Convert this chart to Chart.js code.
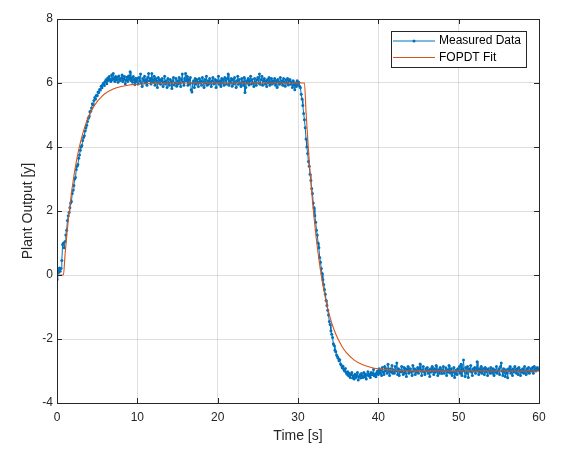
<!DOCTYPE html>
<html>
<head>
<meta charset="utf-8">
<script src="https://cdn.jsdelivr.net/npm/chart.js@4/dist/chart.umd.min.js"></script>
<style>
  html, body { margin: 0; padding: 0; background: #fff; }
  #wrap { position: relative; width: 564px; height: 451px; }
</style>
</head>
<body>
<div id="wrap"><canvas id="c" width="564" height="451"></canvas></div>
<script>
// ---- Data ----
const sampleStep = 0.1; // s, measured samples

const measuredValues = [
  // 0 - 0.9 s
  -0.15, 0.15, 0.08, 0.22, 0.12, 0.2, 0.45, 0.95, 1.0, 0.85,
  // 1 s
  1.05, 1.25, 1.4, 1.7, 1.85, 1.95, 2.1, 2.25, 2.3, 2.55,
  // 2 s
  2.65, 2.8, 3.0, 3.05, 3.3, 3.4, 3.45, 3.65, 3.75, 3.9,
  // 3 s
  4.0, 4.05, 4.2, 4.3, 4.35, 4.5, 4.6, 4.68, 4.8, 4.9,
  // 4 s
  4.95, 5.1, 5.12, 5.22, 5.35, 5.32, 5.45, 5.55, 5.5, 5.62,
  // 5 s
  5.6, 5.72, 5.7, 5.8, 5.78, 5.9, 5.85, 5.95, 6.0, 5.92,
  // 6 s
  6.05, 6.1, 5.98, 6.15, 6.08, 6.2, 6.12, 6.05, 6.25, 6.1,
  // 7 s
  6.3, 6.15, 6.05, 6.2, 6.1, 6.18, 6.02, 6.22, 6.12, 6.08,
  // 8 s
  6.15, 6.25, 6.05, 6.12, 6.2, 5.98, 6.1, 6.18, 6.05, 6.22,
  // 9 s
  6.12, 6.35, 6.08, 6.15, 6.02, 6.2, 6.1, 5.95, 6.15, 6.05,
  // 10 s
  6.14, 5.97, 6.17, 6.07, 6.28, 6.0, 5.89, 6.14, 6.07, 6.21,
  // 11 s
  6.0, 6.11, 5.93, 6.17, 6.3, 6.07, 6.14, 5.97, 6.3, 6.11,
  // 12 s
  6.03, 6.21, 5.93, 6.14, 6.07, 5.86, 6.17, 6.0, 6.11, 5.96,
  // 13 s
  6.07, 6.14, 5.89, 6.03, 6.21, 5.97, 6.07, 5.86, 6.14, 6.0,
  // 14 s
  5.93, 6.11, 6.03, 5.83, 6.07, 6.17, 5.94, 6.0, 6.14, 5.9,
  // 15 s
  6.07, 5.97, 6.17, 6.0, 5.89, 6.11, 6.28, 6.03, 5.93, 6.14,
  // 16 s
  6.3, 6.07, 6.21, 5.93, 6.11, 5.97, 6.17, 5.79, 5.72, 6.0,
  // 17 s
  6.07, 5.86, 6.14, 5.96, 6.11, 6.03, 5.89, 6.14, 6.0, 6.07,
  // 18 s
  5.93, 6.17, 6.04, 5.86, 6.11, 6.0, 6.21, 5.93, 6.07, 5.97,
  // 19 s
  6.14, 6.03, 5.89, 6.07, 6.17, 5.97, 6.0, 6.11, 5.86, 6.07,
  // 20 s
  6.03, 6.21, 5.96, 6.07, 5.89, 6.14, 6.0, 6.11, 5.93, 6.17,
  // 21 s
  6.07, 5.97, 6.14, 6.28, 5.93, 6.07, 6.0, 6.14, 5.9, 6.11,
  // 22 s
  5.97, 6.17, 6.03, 5.86, 6.07, 6.21, 5.96, 6.11, 6.0, 5.89,
  // 23 s
  6.14, 6.03, 5.93, 6.17, 5.7, 5.86, 6.07, 6.0, 6.14, 5.94,
  // 24 s
  6.07, 6.21, 5.97, 6.11, 6.0, 5.89, 6.14, 6.03, 5.93, 6.1,
  // 25 s
  6.17, 6.0, 6.28, 5.96, 6.11, 6.21, 5.93, 6.07, 6.14, 5.97,
  // 26 s
  6.07, 5.89, 6.11, 6.0, 6.17, 5.93, 6.03, 6.14, 5.97, 6.07,
  // 27 s
  6.0, 6.14, 5.93, 6.07, 5.86, 6.11, 6.03, 5.96, 6.17, 6.0,
  // 28 s
  6.07, 5.93, 6.14, 6.03, 5.9, 6.1, 6.0, 6.14, 5.94, 6.06,
  // 29 s
  6.11, 5.96, 6.03, 5.86, 6.07, 5.93, 5.79, 6.0, 5.89, 6.07,
  // 30 s
  5.95, 6.02, 5.9, 5.85, 5.65, 5.5, 5.3, 5.05, 4.85, 4.6,
  // 31 s
  4.25, 4.0, 3.8, 3.55, 3.4, 3.15, 2.95, 2.7, 2.55, 2.25,
  // 32 s
  2.1, 1.85, 1.65, 1.4, 1.25, 1.0, 0.85, 0.55, 0.4, 0.2,
  // 33 s
  0.05, -0.15, -0.3, -0.45, -0.6, -0.8, -0.95, -1.1, -1.25, -1.45,
  // 34 s
  -1.55, -1.75, -1.85, -1.95, -2.15, -2.2, -2.35, -2.4, -2.5, -2.55,
  // 35 s
  -2.6, -2.68, -2.65, -2.78, -2.82, -2.9, -2.85, -2.95, -3.0, -2.92,
  // 36 s
  -3.05, -3.1, -3.02, -3.15, -3.08, -3.2, -3.12, -3.05, -3.22, -3.15,
  // 37 s
  -3.25, -3.1, -3.2, -3.15, -3.05, -3.28, -3.18, -3.12, -3.22, -3.08,
  // 38 s
  -3.15, -3.2, -3.05, -3.18, -3.1, -3.25, -3.12, -3.02, -3.15, -3.1,
  // 39 s
  -3.2, -3.05, -3.12, -3.08, -2.95, -3.15, -3.1, -3.18, -3.05, -3.0,
  // 40 s
  -3.11, -2.93, -3.07, -2.97, -3.14, -2.89, -3.03, -3.11, -2.86, -3.0,
  // 41 s
  -2.93, -3.07, -2.79, -3.0, -3.14, -2.93, -3.03, -2.83, -3.07, -2.96,
  // 42 s
  -3.07, -2.86, -3.0, -2.75, -3.11, -2.93, -3.14, -2.97, -3.03, -2.86,
  // 43 s
  -3.0, -3.11, -2.89, -3.07, -2.93, -3.17, -2.97, -2.86, -3.07, -3.0,
  // 44 s
  -2.93, -3.03, -3.14, -2.83, -3.0, -2.93, -3.11, -2.96, -3.04, -2.89,
  // 45 s
  -3.07, -2.93, -2.78, -3.0, -3.14, -2.97, -2.86, -3.03, -3.11, -2.93,
  // 46 s
  -3.0, -2.89, -3.07, -2.97, -3.17, -2.93, -3.03, -2.86, -3.0, -3.11,
  // 47 s
  -2.93, -3.04, -2.83, -3.0, -3.14, -2.96, -3.07, -2.89, -3.0, -3.08,
  // 48 s
  -2.97, -2.86, -3.07, -3.0, -2.9, -3.14, -2.96, -3.04, -2.83, -3.0,
  // 49 s
  -3.07, -2.93, -3.14, -3.03, -2.89, -3.2, -3.07, -2.97, -3.11, -2.93,
  // 50 s
  -3.0, -2.86, -3.07, -2.79, -3.14, -2.93, -2.66, -3.0, -3.17, -2.89,
  // 51 s
  -3.07, -2.86, -3.2, -2.93, -3.0, -2.83, -3.03, -3.14, -2.93, -3.0,
  // 52 s
  -2.89, -3.07, -2.97, -2.71, -3.0, -3.11, -2.93, -3.03, -2.86, -3.07,
  // 53 s
  -3.0, -2.93, -3.11, -2.89, -3.03, -2.96, -3.14, -2.93, -3.0, -3.07,
  // 54 s
  -2.89, -3.0, -3.07, -2.93, -3.14, -2.97, -3.03, -2.86, -3.07, -3.0,
  // 55 s
  -2.93, -3.11, -2.86, -2.75, -3.0, -3.14, -2.93, -3.03, -3.17, -2.96,
  // 56 s
  -3.07, -3.21, -2.93, -3.0, -2.86, -3.07, -2.97, -3.14, -2.93, -3.03,
  // 57 s
  -2.86, -3.0, -3.07, -2.93, -3.11, -2.89, -3.0, -3.14, -2.96, -3.04,
  // 58 s
  -2.93, -3.07, -2.86, -3.0, -3.11, -2.93, -3.03, -2.89, -3.07, -3.0,
  // 59 s
  -2.93, -3.0, -2.89, -3.07, -2.86, -2.97, -3.0, -2.93, -2.89, -2.96,
  // 60 s
  -2.95
];

const fitTime = [
  0, 0.8, 1.0, 1.25, 1.5, 1.75, 2.0, 2.5, 3.0, 3.5, 4.0, 4.5, 5.0, 5.5, 6.0,
  7.0, 8.0, 9.0, 10.0, 12.0, 15.0, 20.0, 30.8,
  31.0, 31.25, 31.5, 32.0, 32.5, 33.0, 33.5, 34.0, 34.5, 35.0, 35.5, 36.0,
  37.0, 38.0, 39.0, 40.0, 42.0, 45.0, 50.0, 60.0
];
const fitValues = [
  0, 0, 0.63, 1.33, 1.93, 2.46, 2.92, 3.67, 4.23, 4.66, 4.99, 5.23, 5.42, 5.56, 5.67,
  5.81, 5.89, 5.94, 5.96, 5.99, 6.0, 6.0, 6.0,
  5.1, 4.1, 3.23, 1.79, 0.68, -0.17, -0.83, -1.33, -1.72, -2.01, -2.24, -2.42,
  -2.66, -2.8, -2.88, -2.93, -2.975, -2.995, -3.0, -3.0
];

const xTicks = [0, 10, 20, 30, 40, 50, 60];
const yTicks = [-4, -2, 0, 2, 4, 6, 8];

const seriesNames = ['Measured Data', 'FOPDT Fit'];
const xTitle = 'Time [s]';
const yTitle = 'Plant Output [y]';

// ---- Build chart ----
const measuredPoints = measuredValues.map((v, i) => ({ x: Math.round(i * sampleStep * 10) / 10, y: v }));
const fitPoints = fitTime.map((t, i) => ({ x: t, y: fitValues[i] }));

const AX = '#262626';
const GRID = 'rgba(38,38,38,0.15)';
const FONT = 'Liberation Sans, Arial, Helvetica, sans-serif';

const boxAndTicks = {
  id: 'boxAndTicks',
  afterDatasetsDraw(chart) {
    const { ctx, chartArea: a, scales } = chart;
    ctx.save();
    ctx.strokeStyle = AX;
    ctx.lineWidth = 1;
    ctx.beginPath();
    const len = 5;
    xTicks.forEach(v => {
      const px = Math.round(scales.x.getPixelForValue(v)) + 0.5;
      ctx.moveTo(px, a.bottom); ctx.lineTo(px, a.bottom - len);
      ctx.moveTo(px, a.top); ctx.lineTo(px, a.top + len);
    });
    yTicks.forEach(v => {
      const py = Math.round(scales.y.getPixelForValue(v)) + 0.5;
      ctx.moveTo(a.left, py); ctx.lineTo(a.left + len, py);
      ctx.moveTo(a.right, py); ctx.lineTo(a.right - len, py);
    });
    ctx.stroke();
    ctx.strokeRect(Math.round(a.left) + 0.5, Math.round(a.top) + 0.5,
                   Math.round(a.right - a.left), Math.round(a.bottom - a.top));
    ctx.restore();
  }
};

const insideLegend = {
  id: 'insideLegend',
  afterDraw(chart) {
    const { ctx, chartArea: a } = chart;
    const ds = chart.data.datasets;
    ctx.save();
    ctx.font = '12px ' + FONT;
    const textW = Math.max(...ds.map(d => ctx.measureText(d.label).width));
    const padL = 2, lineLen = 42, gap = 4, padR = 5, rowH = 16.5;
    const w = Math.round(padL + lineLen + gap + textW + padR);
    const h = 36;
    const right = a.right - 13;
    const left = right - w;
    const top = a.top + 12;
    ctx.fillStyle = '#fff';
    ctx.fillRect(left, top, w, h);
    ctx.strokeStyle = AX;
    ctx.lineWidth = 1;
    ctx.strokeRect(Math.round(left) + 0.5, Math.round(top) + 0.5, w, h);
    ds.forEach((d, i) => {
      const cy = top + 10 + i * rowH;
      ctx.strokeStyle = d.borderColor;
      ctx.lineWidth = d.borderWidth;
      ctx.beginPath();
      ctx.moveTo(left + padL, cy); ctx.lineTo(left + padL + lineLen, cy);
      ctx.stroke();
      if (d.pointRadius > 0) {
        ctx.fillStyle = d.borderColor;
        ctx.beginPath();
        ctx.arc(left + padL + lineLen / 2, cy, d.pointRadius, 0, Math.PI * 2);
        ctx.fill();
      }
      ctx.fillStyle = '#000';
      ctx.textBaseline = 'middle';
      ctx.textAlign = 'left';
      ctx.fillText(d.label, left + padL + lineLen + gap, cy);
    });
    ctx.restore();
  }
};

new Chart(document.getElementById('c'), {
  type: 'line',
  data: {
    datasets: [
      {
        label: seriesNames[0],
        data: measuredPoints,
        borderColor: '#0072BD',
        backgroundColor: '#0072BD',
        borderWidth: 1,
        pointRadius: 1.5,
        pointBorderWidth: 0,
        pointBackgroundColor: '#0072BD',
        tension: 0,
        order: 1
      },
      {
        label: seriesNames[1],
        data: fitPoints,
        borderColor: '#D95319',
        backgroundColor: '#D95319',
        borderWidth: 1.1,
        pointRadius: 0,
        cubicInterpolationMode: 'monotone',
        order: 0
      }
    ]
  },
  options: {
    responsive: false,
    devicePixelRatio: 1,
    animation: false,
    events: [],
    layout: { padding: { left: 0, top: 19, right: 25, bottom: 0 } },
    plugins: {
      legend: { display: false },
      tooltip: { enabled: false }
    },
    scales: {
      x: {
        type: 'linear',
        min: 0, max: 60,
        afterBuildTicks(scale) { scale.ticks = xTicks.map(v => ({ value: v })); },
        afterFit(scale) { scale.height = 48; },
        grid: { color: GRID, drawTicks: false },
        border: { display: false },
        ticks: { color: AX, font: { size: 12, family: FONT }, padding: 7, maxRotation: 0 },
        title: { display: true, text: xTitle, color: AX, font: { size: 14, family: FONT }, padding: { top: 0, bottom: 6 } }
      },
      y: {
        type: 'linear',
        min: -4, max: 8,
        afterBuildTicks(scale) { scale.ticks = yTicks.map(v => ({ value: v })); },
        afterFit(scale) { scale.width = 57; },
        grid: { color: GRID, drawTicks: false },
        border: { display: false },
        ticks: { color: AX, font: { size: 12, family: FONT }, padding: 4 },
        title: { display: true, text: yTitle, color: AX, font: { size: 14, family: FONT }, padding: { top: 20, bottom: 0 } }
      }
    }
  },
  plugins: [boxAndTicks, insideLegend]
});
</script>
</body>
</html>
